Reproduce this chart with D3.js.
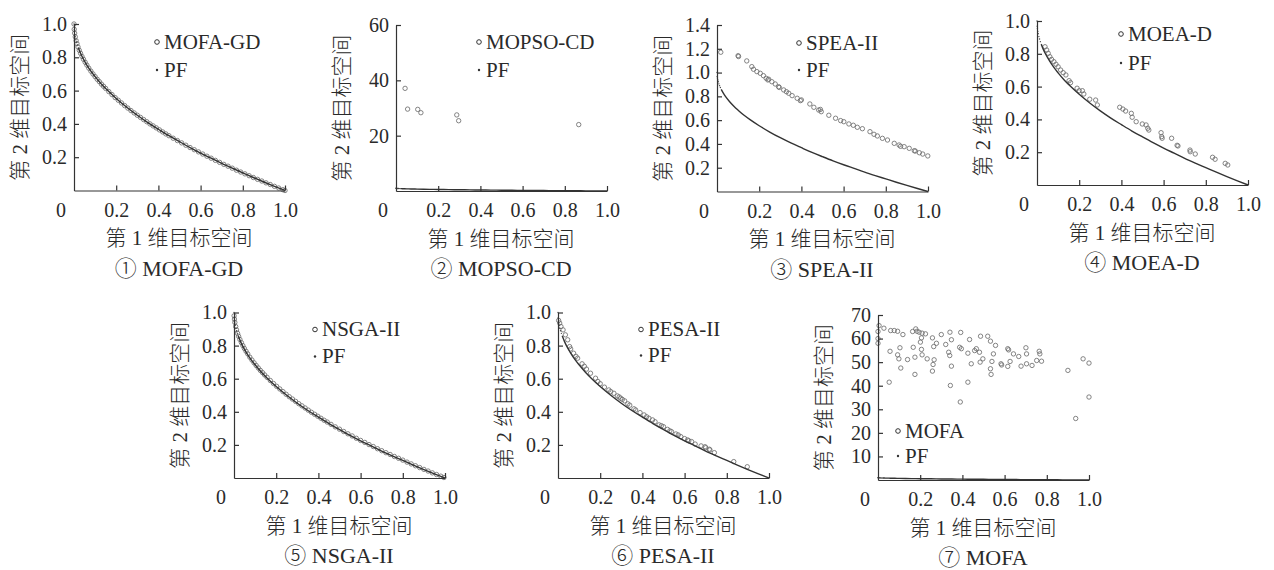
<!DOCTYPE html>
<html>
<head>
<meta charset="utf-8">
<title>Pareto fronts of seven algorithms</title>
<script src="https://cdn.jsdelivr.net/npm/d3@7"></script>
<style>
  * { margin: 0; padding: 0; }
  body { background: #fff; }
  svg text { fill: #2a2a2a; }
  .serif { font-family: "Liberation Serif", "Times New Roman", serif; }
  .cn { font-family: "Liberation Serif", "Noto Sans CJK SC", serif; font-weight: 300; }
</style>
</head>
<body>
<svg id="chart" width="1274" height="570"></svg>
<script>
// tick values
var xTicks = [0.2, 0.4, 0.6, 0.8, 1.0];
var yTicksUnit = [0.2, 0.4, 0.6, 0.8, 1.0];
var yTicks60 = [20, 40, 60];
var yTicks14 = [0.2, 0.4, 0.6, 0.8, 1.0, 1.2, 1.4];
var yTicks70 = [10, 20, 30, 40, 50, 60, 70];

var titles = ["① MOFA-GD", "② MOPSO-CD", "③ SPEA-II", "④ MOEA-D", "⑤ NSGA-II", "⑥ PESA-II", "⑦ MOFA"];
var names = ["MOFA-GD", "MOPSO-CD", "SPEA-II", "MOEA-D", "NSGA-II", "PESA-II", "MOFA"];
var xLabel = "第 1 维目标空间";
var yLabel = "第 2 维目标空间";

// true Pareto front (PF)
var pfX = [0.02, 0.03, 0.04, 0.06, 0.08, 0.1, 0.13, 0.16, 0.2, 0.25, 0.3, 0.35, 0.4, 0.45, 0.5, 0.55, 0.6, 0.65, 0.7, 0.75, 0.8, 0.85, 0.9, 0.95, 1.0];
var pfY = [0.859, 0.827, 0.80, 0.755, 0.717, 0.684, 0.639, 0.60, 0.553, 0.50, 0.452, 0.408, 0.368, 0.329, 0.293, 0.258, 0.225, 0.194, 0.163, 0.134, 0.106, 0.078, 0.051, 0.025, 0];
// sparse PF dots at the steep top end
var pfTopX = [0, 0.001, 0.002, 0.004, 0.006, 0.009, 0.012, 0.016];
var pfTopY = [1.0, 0.968, 0.955, 0.937, 0.923, 0.905, 0.89, 0.874];

// 1 MOFA-GD
var mofaGdX = [0, .001, .003, .006, .01, .014, .019, .025, .031, .038, .045, .053, .061, .07, .08, .09, .1, .11, .12, .13, .14, .15, .165, .18, .195, .21, .225, .24, .255, .27, .285, .3, .315, .33, .345, .36, .375, .39, .405, .42, .435, .45, .47, .49, .51, .53, .55, .57, .59, .61, .63, .65, .67, .69, .71, .73, .75, .77, .79, .81, .83, .85, .87, .89, .91, .93, .95, .97, .99, 1.0];
var mofaGdY = [1.0, .968, .945, .923, .90, .882, .862, .842, .824, .805, .788, .770, .753, .735, .717, .70, .684, .668, .654, .639, .626, .613, .594, .576, .558, .542, .526, .510, .495, .480, .466, .452, .439, .426, .413, .40, .388, .376, .364, .352, .340, .329, .314, .30, .286, .272, .258, .245, .232, .219, .206, .194, .181, .169, .157, .146, .134, .122, .111, .10, .089, .078, .067, .057, .046, .036, .025, .015, .005, 0];

// 2 MOPSO-CD
var mopsoX = [0.043, 0.055, 0.103, 0.118, 0.288, 0.297, 0.866];
var mopsoY = [37.1, 29.6, 29.5, 28.3, 27.5, 25.4, 24.0];

// 3 SPEA-II
var speaX = [0.018, 0.10, 0.102, 0.141, 0.165, 0.173, 0.189, 0.205, 0.22, 0.233, 0.241, 0.245, 0.26, 0.276, 0.292, 0.295, 0.316, 0.329, 0.34, 0.356, 0.38, 0.395, 0.40, 0.44, 0.459, 0.482, 0.49, 0.494, 0.53, 0.562, 0.586, 0.601, 0.625, 0.646, 0.665, 0.689, 0.725, 0.744, 0.76, 0.784, 0.808, 0.84, 0.863, 0.87, 0.887, 0.911, 0.935, 0.94, 0.959, 0.975, 0.999];
var speaY = [1.171, 1.142, 1.135, 1.098, 1.05, 1.028, 1.008, 0.994, 0.974, 0.952, 0.938, 0.944, 0.923, 0.904, 0.881, 0.875, 0.854, 0.839, 0.826, 0.806, 0.784, 0.764, 0.77, 0.736, 0.708, 0.685, 0.69, 0.671, 0.641, 0.616, 0.596, 0.587, 0.568, 0.557, 0.54, 0.528, 0.503, 0.481, 0.467, 0.447, 0.433, 0.405, 0.391, 0.38, 0.377, 0.363, 0.343, 0.34, 0.326, 0.315, 0.299];

// 4 MOEA-D
var moeadX = [0.038, 0.046, 0.053, 0.061, 0.069, 0.08, 0.09, 0.10, 0.112, 0.124, 0.137, 0.152, 0.159, 0.19, 0.20, 0.215, 0.222, 0.25, 0.278, 0.286, 0.392, 0.407, 0.42, 0.447, 0.451, 0.47, 0.499, 0.517, 0.525, 0.53, 0.588, 0.591, 0.593, 0.638, 0.664, 0.668, 0.725, 0.726, 0.75, 0.832, 0.844, 0.892, 0.904];
var moeadY = [0.843, 0.823, 0.803, 0.782, 0.766, 0.752, 0.736, 0.721, 0.701, 0.685, 0.671, 0.636, 0.624, 0.59, 0.575, 0.575, 0.555, 0.523, 0.518, 0.488, 0.474, 0.463, 0.451, 0.437, 0.413, 0.386, 0.372, 0.366, 0.346, 0.335, 0.319, 0.295, 0.285, 0.285, 0.242, 0.238, 0.213, 0.203, 0.189, 0.169, 0.157, 0.132, 0.122];

// 5 NSGA-II
var nsgaX = [.0005, .002, .004, .008, .012, .017, .022, .028, .035, .042, .049, .057, .065, .075, .085, .095, .105, .115, .125, .135, .145, .157, .172, .187, .202, .217, .232, .247, .262, .277, .292, .307, .322, .337, .352, .367, .382, .397, .412, .427, .442, .46, .48, .5, .52, .54, .56, .58, .6, .62, .64, .66, .68, .7, .72, .74, .76, .78, .8, .82, .84, .86, .88, .9, .92, .94, .96, .98, .995];
var nsgaY = [.98, .96, .94, .915, .895, .874, .856, .837, .818, .80, .783, .766, .75, .73, .713, .696, .68, .665, .65, .637, .623, .608, .589, .571, .554, .538, .522, .506, .491, .477, .463, .449, .436, .423, .41, .397, .385, .373, .361, .349, .338, .324, .309, .295, .281, .267, .254, .24, .227, .215, .202, .19, .177, .165, .153, .142, .13, .119, .108, .096, .085, .074, .063, .052, .042, .031, .021, .011, .003];

// 6 PESA-II
var pesaX = [0.003, 0.008, 0.014, 0.024, 0.035, 0.046, 0.055, 0.06, 0.074, 0.085, 0.093, 0.114, 0.125, 0.135, 0.154, 0.178, 0.189, 0.20, 0.22, 0.241, 0.25, 0.265, 0.281, 0.29, 0.297, 0.305, 0.316, 0.331, 0.34, 0.36, 0.368, 0.389, 0.408, 0.42, 0.431, 0.448, 0.46, 0.479, 0.49, 0.50, 0.519, 0.53, 0.538, 0.559, 0.57, 0.582, 0.60, 0.614, 0.62, 0.633, 0.65, 0.678, 0.697, 0.70, 0.717, 0.72, 0.741, 0.833, 0.897];
var pesaY = [0.952, 0.936, 0.915, 0.895, 0.865, 0.835, 0.794, 0.78, 0.754, 0.735, 0.724, 0.69, 0.675, 0.658, 0.633, 0.603, 0.583, 0.57, 0.549, 0.532, 0.522, 0.512, 0.496, 0.49, 0.482, 0.475, 0.466, 0.448, 0.44, 0.418, 0.411, 0.395, 0.381, 0.37, 0.361, 0.351, 0.34, 0.321, 0.316, 0.31, 0.294, 0.285, 0.28, 0.266, 0.26, 0.25, 0.238, 0.23, 0.225, 0.22, 0.205, 0.194, 0.189, 0.183, 0.174, 0.17, 0.153, 0.099, 0.068];

// 7 MOFA
var mofaX = [0.0, 0.0, 0.0, 0.005, 0.028, 0.06, 0.077, 0.093, 0.118, 0.164, 0.179, 0.185, 0.195, 0.209, 0.225, 0.258, 0.30, 0.341, 0.392, 0.434, 0.486, 0.52, 0.533, 0.557, 0.615, 0.619, 0.701, 0.764,
  0.057, 0.104, 0.093, 0.099, 0.108, 0.14, 0.167, 0.175, 0.175, 0.201, 0.206, 0.206, 0.209, 0.233, 0.258, 0.261, 0.266, 0.264, 0.277, 0.321, 0.335, 0.34, 0.348, 0.343, 0.348, 0.387, 0.395, 0.39, 0.426, 0.426, 0.442, 0.458, 0.466, 0.481, 0.484, 0.497, 0.533, 0.536, 0.54, 0.547, 0.583, 0.586, 0.615, 0.626, 0.642, 0.667, 0.678, 0.704, 0.704, 0.73, 0.752, 0.767, 0.775, 0.90, 0.972, 1.0, 0.937, 0.053, 1.0];
var mofaY = [63.0, 60.0, 58.0, 65.5, 64.4, 63.4, 63.4, 63.1, 61.7, 63.0, 64.1, 63.1, 62.7, 62.3, 62.0, 60.3, 61.7, 62.7, 62.6, 59.6, 61.0, 61.0, 58.9, 57.1, 55.7, 55.2, 56.1, 54.6,
  54.6, 56.1, 53.1, 51.4, 47.5, 51.1, 56.3, 52.1, 44.8, 58.5, 60.3, 55.4, 53.1, 51.4, 46.2, 49.0, 51.0, 56.6, 58.0, 57.5, 54.2, 52.8, 48.3, 40.1, 59.5, 56.3, 55.7, 33.1, 53.8, 41.5, 49.3, 54.9, 55.7, 54.2, 50.0, 51.4, 47.2, 44.8, 50.3, 53.5, 49.3, 48.8, 48.2, 50.3, 53.5, 52.4, 48.3, 53.5, 49.3, 48.6, 50.7, 53.5, 50.4, 46.5, 51.4, 49.6, 26.1, 41.5, 35.2];

var svg = d3.select("#chart");
var W = 211;

// panel layout: axis origin, top of y axis, legend placement
var panels = [
  { x0: 74,   y0: 190.5, top: 24,    yMax: 1,   yTicks: yTicksUnit, fmt: ".1f", xs: mofaGdX, ys: mofaGdY, leg: [83, 18, 46] },
  { x0: 396,  y0: 191,   top: 25,    yMax: 60,  yTicks: yTicks60,   fmt: "d",   xs: mopsoX,  ys: mopsoY,  leg: [83, 17, 45] },
  { x0: 717,  y0: 191.5, top: 25,    yMax: 1.4, yTicks: yTicks14,   fmt: ".1f", xs: speaX,   ys: speaY,   leg: [82, 18, 45] },
  { x0: 1037, y0: 185,   top: 21,    yMax: 1,   yTicks: yTicksUnit, fmt: ".1f", xs: moeadX,  ys: moeadY,  leg: [84, 13, 42] },
  { x0: 234,  y0: 478,   top: 312.5, yMax: 1,   yTicks: yTicksUnit, fmt: ".1f", xs: nsgaX,   ys: nsgaY,   leg: [81, 17, 44] },
  { x0: 558,  y0: 478,   top: 312.5, yMax: 1,   yTicks: yTicksUnit, fmt: ".1f", xs: pesaX,   ys: pesaY,   leg: [83, 17, 43] },
  { x0: 878,  y0: 480,   top: 315,   yMax: 70,  yTicks: yTicks70,   fmt: "d",   xs: mofaX,   ys: mofaY,   leg: [20, 116, 141] }
];

panels.forEach(function(p, i) {
  var h = p.y0 - p.top;
  var x = d3.scaleLinear().domain([0, 1]).range([0, W]);
  var y = d3.scaleLinear().domain([0, p.yMax]).range([h, 0]);
  var g = svg.append("g").attr("transform", "translate(" + p.x0 + "," + p.top + ")");

  // algorithm points
  g.selectAll(".pt")
    .data(d3.zip(p.xs, p.ys))
    .join("circle")
    .attr("class", "pt")
    .attr("cx", function(d) { return x(d[0]); })
    .attr("cy", function(d) { return y(d[1]); })
    .attr("r", 2.2)
    .attr("fill", "none")
    .attr("stroke", "#6e6e6e")
    .attr("stroke-width", 0.85);

  // PF curve
  g.append("path")
    .datum(d3.zip(pfX, pfY))
    .attr("d", d3.line()
      .x(function(d) { return x(d[0]); })
      .y(function(d) { return y(d[1]); })
      .curve(d3.curveMonotoneX))
    .attr("fill", "none")
    .attr("stroke", "#333")
    .attr("stroke-width", 1.4);

  g.selectAll(".pfdot")
    .data(d3.zip(pfTopX, pfTopY))
    .join("circle")
    .attr("class", "pfdot")
    .attr("cx", function(d) { return x(d[0]); })
    .attr("cy", function(d) { return y(d[1]); })
    .attr("r", 0.7)
    .attr("fill", "#444");

  // axes, ticks pointing inward
  var xAxis = d3.axisBottom(x).tickValues(xTicks).tickFormat(d3.format(".1f"))
    .tickSizeInner(-5).tickSizeOuter(0).tickPadding(12);
  var yAxis = d3.axisLeft(y).tickValues(p.yTicks).tickFormat(d3.format(p.fmt))
    .tickSizeInner(-5).tickSizeOuter(0).tickPadding(7);

  g.append("g")
    .attr("transform", "translate(0," + h + ")")
    .call(xAxis)
    .call(styleAxis);
  g.append("g")
    .call(yAxis)
    .call(styleAxis);

  // shared origin label
  g.append("text")
    .attr("class", "serif")
    .attr("x", -13)
    .attr("y", h + 12)
    .attr("dy", "0.71em")
    .attr("text-anchor", "middle")
    .attr("font-size", 20)
    .text("0");

  // axis titles
  g.append("text")
    .attr("class", "cn")
    .attr("x", 105)
    .attr("y", h + 47.5)
    .attr("dy", "0.35em")
    .attr("text-anchor", "middle")
    .attr("font-size", 21)
    .text(xLabel);
  g.append("text")
    .attr("class", "cn")
    .attr("transform", "translate(-54," + (h / 2) + ") rotate(-90)")
    .attr("dy", "0.35em")
    .attr("text-anchor", "middle")
    .attr("font-size", 21)
    .text(yLabel);

  // panel caption
  g.append("text")
    .attr("class", "cn")
    .attr("x", 105)
    .attr("y", h + 77.5)
    .attr("dy", "0.35em")
    .attr("text-anchor", "middle")
    .attr("font-size", 22)
    .text(titles[i]);

  // legend
  var lx = p.leg[0];
  g.append("circle").attr("cx", lx).attr("cy", p.leg[1]).attr("r", 2.3)
    .attr("fill", "none").attr("stroke", "#333").attr("stroke-width", 1);
  g.append("circle").attr("cx", lx).attr("cy", p.leg[2]).attr("r", 1.2).attr("fill", "#333");
  g.append("text").attr("class", "serif").attr("x", lx + 7).attr("y", p.leg[1])
    .attr("dy", "0.33em").attr("font-size", 21).text(names[i]);
  g.append("text").attr("class", "serif").attr("x", lx + 7).attr("y", p.leg[2])
    .attr("dy", "0.33em").attr("font-size", 21).text("PF");
});

function styleAxis(sel) {
  sel.attr("font-family", "Liberation Serif, Times New Roman, serif")
    .attr("font-size", 20)
    .attr("color", "#2a2a2a");
  sel.selectAll("path, line").attr("stroke", "#333").attr("stroke-width", 1.2);
}
</script>
</body>
</html>
